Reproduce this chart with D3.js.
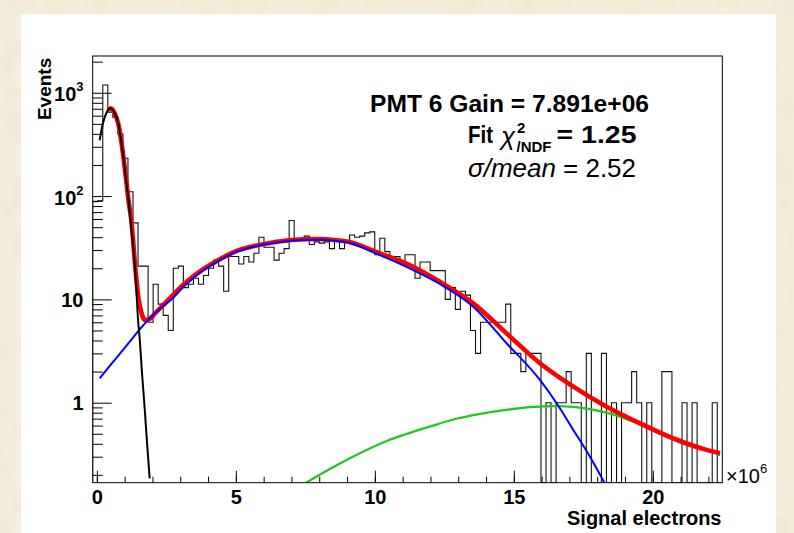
<!DOCTYPE html>
<html><head><meta charset="utf-8">
<script src="https://cdn.jsdelivr.net/npm/d3@7"></script>
<style>
html,body{margin:0;padding:0;background:#f4ead6;}
svg{display:block;}
text{font-family:"Liberation Sans",Arial,Helvetica,sans-serif;}
</style>
</head><body>
<svg id="chart" width="794" height="533"></svg>
<script>
// ---------------- DATA ----------------
// histogram range (units of 10^6 signal electrons) and bin contents (Events)
const histRange = [-0.15, 22.5];
const counts = [
  88, 90, 1190, 650, 580, 400, 232, 110, 55, 21,
  21, 6, 14, 9, 7, 5, 20, 21, 13, 14,
  16, 14, 17, 20, 24, 21, 12, 26, 26, 22,
  26, 23, 28, 40, 32, 32, 24, 28, 31, 58,
  37, 37, 41, 34, 36, 35, 36, 31, 37, 31,
  37, 42, 40, 41, 44, 45, 27, 39, 29, 26,
  26, 23, 27, 27, 16, 23, 23, 19, 19, 19,
  10, 13, 8, 12, 11, 5, 3, 6, 6, 6,
  6, 6, 9, 3, 3, 2, 3, 3, 3, 0,
  1, 0, 1, 1, 2, 1, 1, 0, 3, 0,
  0, 3, 0, 1, 0, 1, 1, 2, 1, 0,
  1, 0, 0, 2, 2, 0, 0, 1, 0, 1,
  0, 0, 0, 1, 0
];
// pedestal fit (black)  [x, events]
const pedestalFit = [
  [0.10, 347], [0.219, 507], [0.338, 634], [0.496, 708], [0.640, 634],
  [0.784, 488], [0.878, 336], [0.975, 215], [1.058, 138], [1.144, 88],
  [1.237, 48.8], [1.335, 26.9], [1.417, 12.8], [1.478, 6.56], [1.54, 4.2],
  [1.62, 2.0], [1.72, 0.88], [1.81, 0.39], [1.90, 0.185]
];
// total fit (red)
const totalFit = [
  [0.41, 690], [0.50, 708], [0.64, 634], [0.78, 488], [0.88, 336],
  [0.975, 215], [1.06, 138], [1.14, 90], [1.25, 54.6], [1.37, 22.3],
  [1.49, 10.6], [1.61, 7.3], [1.73, 6.3], [1.91, 6.5], [2.09, 7.3],
  [2.57, 9.9], [3.17, 14.3], [3.77, 19.2], [4.37, 24], [4.97, 29],
  [5.57, 32.4], [6.17, 34.9], [6.77, 36.9], [7.37, 38.2], [7.96, 38.4],
  [8.57, 37.6], [9.0, 36.3], [10.18, 27.9], [11.38, 20.7], [12.34, 14.8],
  [13.54, 9.15], [14.74, 4.69], [15.94, 2.41], [17.14, 1.43], [18.34, 0.915],
  [19.54, 0.63], [20.74, 0.45], [21.94, 0.349], [22.42, 0.324]
];
// single photo-electron fit (blue)
const speFit = [
  [0.10, 1.72], [0.50, 2.33], [0.88, 3.1], [1.25, 4.1], [1.48, 4.9],
  [1.84, 6.3], [2.33, 8.4], [2.57, 9.4], [3.17, 13.6], [3.77, 18.6],
  [4.37, 23.5], [4.97, 28.5], [5.57, 32.0], [6.17, 34.5], [6.77, 36.4],
  [7.37, 37.6], [7.96, 37.8], [8.57, 37.0], [9.0, 35.7], [10.18, 26.8],
  [11.38, 19.2], [12.34, 14.1], [13.54, 8.5], [14.74, 3.76], [15.94, 1.66],
  [16.54, 0.987], [17.14, 0.545], [17.74, 0.30], [18.25, 0.17]
];
// second component fit (green)
const tailFit = [
  [7.53, 0.168], [8.38, 0.228], [9.26, 0.305], [10.43, 0.426], [11.08, 0.492],
  [12.0, 0.59], [12.9, 0.695], [13.8, 0.78], [14.71, 0.85], [15.6, 0.905],
  [16.55, 0.925], [17.14, 0.91], [18.34, 0.80], [19.54, 0.62], [20.74, 0.45],
  [21.94, 0.35], [22.42, 0.31]
];
const xTickValues = [0, 5, 10, 15, 20];
const xMinorTicks = d3.range(0, 23, 1);
const yTickValues = [1, 10, 100, 1000];
const yTickBase = ["1", "10", "10", "10"];
const yTickExp = ["", "", "2", "3"];
const yDomain = [0.168, 2270];
const titleLines = ["PMT 6 Gain = 7.891e+06", "Fit", "= 1.25", "σ/mean", " = 2.52"];

// ---------------- DRAWING ----------------
const svg = d3.select("#chart");
const P = {l: 92.7, r: 722.3, t: 56, b: 482.7};

const defs = svg.append("defs");
const filt = defs.append("filter").attr("id", "paper")
  .attr("x", 0).attr("y", 0).attr("width", "100%").attr("height", "100%");
filt.append("feTurbulence").attr("type", "fractalNoise")
  .attr("baseFrequency", "0.035").attr("numOctaves", 3).attr("seed", 7);
filt.append("feColorMatrix").attr("type", "matrix")
  .attr("values", "0 0 0 0 0.80  0 0 0 0 0.70  0 0 0 0 0.52  1.1 0 0 0 -0.45");
defs.append("clipPath").attr("id", "plotclip").append("rect")
  .attr("x", P.l).attr("y", P.t).attr("width", P.r - P.l).attr("height", P.b - P.t);

// background
svg.append("rect").attr("width", 794).attr("height", 533).attr("fill", "#f6eedc");
svg.append("rect").attr("width", 794).attr("height", 533).attr("filter", "url(#paper)").attr("opacity", 0.55);
svg.append("rect").attr("x", 21).attr("y", 14).attr("width", 755).attr("height", 519).attr("fill", "#ffffff");

const x = d3.scaleLinear().domain(histRange).range([P.l, P.r]);
const y = d3.scaleLog().domain(yDomain).range([P.b, P.t]);
const yc = v => v <= 0 ? P.b : Math.max(P.t, Math.min(P.b, y(Math.max(v, yDomain[0]))));

const plot = svg.append("g").attr("clip-path", "url(#plotclip)");

// histogram
const nb = counts.length;
const bw = (histRange[1] - histRange[0]) / nb;
let hp = `M${x(histRange[0])},${P.b}`;
counts.forEach((c, i) => {
  const x0 = x(histRange[0] + i * bw), x1 = x(histRange[0] + (i + 1) * bw);
  hp += `L${x0},${yc(c)}L${x1},${yc(c)}`;
});
hp += `L${x(histRange[1])},${P.b}`;
plot.append("path").attr("d", hp).attr("fill", "none")
  .attr("stroke", "#111").attr("stroke-width", 1.1);

const line = d3.line().x(d => x(d[0])).y(d => y(d[1])).curve(d3.curveMonotoneX);
plot.append("path").attr("d", line(tailFit)).attr("fill", "none").attr("stroke", "#1ec81e").attr("stroke-width", 2.3);
plot.append("path").attr("d", line(totalFit)).attr("fill", "none").attr("stroke", "#ff0000").attr("stroke-width", 4.6).attr("stroke-linejoin", "round");
plot.append("path").attr("d", line(speFit)).attr("fill", "none").attr("stroke", "#0000ff").attr("stroke-width", 2);
plot.append("path").attr("d", line(pedestalFit)).attr("fill", "none").attr("stroke", "#000").attr("stroke-width", 2);

// frame
svg.append("rect").attr("x", P.l).attr("y", P.t).attr("width", P.r - P.l).attr("height", P.b - P.t)
  .attr("fill", "none").attr("stroke", "#000").attr("stroke-width", 1);

// x axis
const xMinor = svg.append("g").attr("transform", `translate(0,${P.b})`)
  .call(d3.axisBottom(x).tickValues(xMinorTicks).tickSizeInner(-6).tickSizeOuter(0).tickFormat(""));
const xMajor = svg.append("g").attr("transform", `translate(0,${P.b})`)
  .call(d3.axisBottom(x).tickValues(xTickValues).tickSizeInner(-12).tickSizeOuter(0).tickPadding(7).tickFormat(d3.format("d")));
[xMinor, xMajor].forEach(g => { g.select(".domain").remove(); g.selectAll("line").attr("stroke", "#000"); });
xMajor.selectAll("text").attr("font-size", 20).attr("font-weight", "bold").attr("fill", "#000")
  .attr("font-family", "Liberation Sans, Arial, sans-serif");

// y axis
const yMinorVals = [];
[0.1, 1, 10, 100, 1000].forEach(d => { for (let k = 2; k <= 9; k++) { const v = d * k; if (v >= yDomain[0] && v <= yDomain[1]) yMinorVals.push(v); } });
const yMinor = svg.append("g").attr("transform", `translate(${P.l},0)`)
  .call(d3.axisLeft(y).tickValues(yMinorVals).tickSizeInner(-10).tickSizeOuter(0).tickFormat(""));
const yMajor = svg.append("g").attr("transform", `translate(${P.l},0)`)
  .call(d3.axisLeft(y).tickValues(yTickValues).tickSizeInner(-19).tickSizeOuter(0).tickFormat(""));
[yMinor, yMajor].forEach(g => { g.select(".domain").remove(); g.selectAll("line").attr("stroke", "#000"); });

yTickValues.forEach((v, i) => {
  const t = svg.append("text").attr("x", 83.5).attr("y", y(v) + (yTickExp[i] ? 8.5 : 7.5))
    .attr("text-anchor", "end").attr("font-size", 20).attr("font-weight", "bold").text(yTickBase[i]);
  if (yTickExp[i]) t.append("tspan").attr("dy", -10).attr("font-size", 13).text(yTickExp[i]);
});

// axis titles
svg.append("text").attr("x", 721.5).attr("y", 525).attr("text-anchor", "end")
  .attr("font-size", 20).attr("font-weight", "bold").text("Signal electrons");
svg.append("text").attr("transform", "translate(50.5,57.8) rotate(-90)").attr("text-anchor", "end")
  .attr("font-size", 19).attr("font-weight", "bold").text("Events");
const mult = svg.append("text").attr("x", 726).attr("y", 483).attr("font-size", 20).text("×10");
mult.append("tspan").attr("dy", -10).attr("font-size", 13).text("6");

// fit summary text
svg.append("text").attr("x", 370).attr("y", 111.7).attr("font-size", 24).attr("font-weight", "bold")
  .attr("textLength", 279).attr("lengthAdjust", "spacingAndGlyphs").text(titleLines[0]);
svg.append("text").attr("x", 468).attr("y", 143.3).attr("font-size", 24).attr("font-weight", "bold")
  .attr("textLength", 25).attr("lengthAdjust", "spacingAndGlyphs").text(titleLines[1]);
svg.append("text").attr("x", 501).attr("y", 145).attr("font-size", 26).attr("font-family", "Liberation Serif, serif").attr("font-style", "italic").text("χ");
svg.append("text").attr("x", 517).attr("y", 133).attr("font-size", 15).attr("font-weight", "bold").text("2");
svg.append("text").attr("x", 516.5).attr("y", 151.5).attr("font-size", 15).attr("font-weight", "bold").text("/NDF");
svg.append("text").attr("x", 556.5).attr("y", 143.3).attr("font-size", 24).attr("font-weight", "bold")
  .attr("textLength", 80).attr("lengthAdjust", "spacingAndGlyphs").text(titleLines[2]);
const l3 = svg.append("text").attr("x", 468).attr("y", 176.7).attr("font-size", 25)
  .attr("textLength", 168).attr("lengthAdjust", "spacingAndGlyphs");
l3.append("tspan").attr("font-style", "italic").text(titleLines[3]);
l3.append("tspan").text(titleLines[4]);
</script>
</body></html>
